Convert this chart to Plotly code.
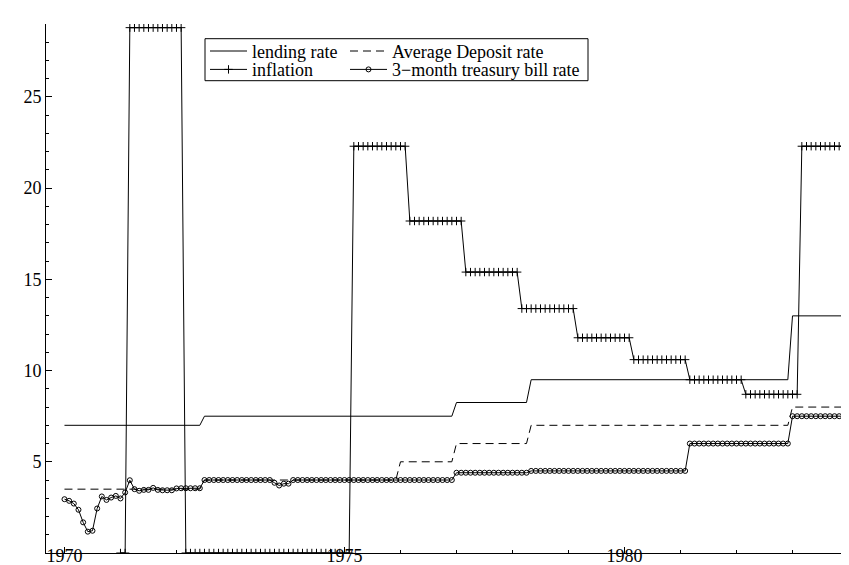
import plotly.graph_objects as go

# ---------------- data (monthly, 1970m1 - 1983m12) ----------------
start_year = 1970
n_months = 168
t = [start_year + i / 12 for i in range(n_months)]

lending_rate = ([7.0] * 30 + [7.5] * 54 + [8.25] * 16 + [9.5] * 56 + [13.0] * 12)

deposit_rate = ([3.5] * 30 + [4.0] * 42 + [5.0] * 12 + [6.0] * 16 + [7.0] * 56 + [8.0] * 12)

inflation = ([None] * 12 + [0.0] * 2 + [28.8] * 12 + [0.0] * 36
             + [22.3] * 12 + [18.2] * 12 + [15.4] * 12 + [13.4] * 12
             + [11.8] * 12 + [10.6] * 12 + [9.5] * 12 + [8.7] * 12 + [22.3] * 10)

tbill_early = [2.95, 2.86, 2.71, 2.37, 1.68, 1.17, 1.22, 2.44, 3.10, 2.91, 3.04, 3.13,
               2.99, 3.32, 3.99, 3.50, 3.41, 3.46, 3.46, 3.57, 3.46, 3.44, 3.44, 3.44,
               3.54, 3.55, 3.55, 3.55, 3.55, 3.55]
tbill_mid = ([4.0] * 15 + [3.85, 3.7, 3.8, 3.8] + [4.0] * 35)
tbill_late = [4.4] * 16 + [4.5] * 34 + [6.0] * 22 + [7.5] * 12
tbill = tbill_early + tbill_mid + tbill_late

x_tick_vals = [1970, 1975, 1980]
x_tick_text = ["1970", "1975", "1980"]
y_tick_vals = [5, 10, 15, 20, 25]
y_tick_text = ["5", "10", "15", "20", "25"]

series_names = ["lending rate", "Average Deposit rate", "inflation", "3\u2212month treasury bill rate"]

# ---------------- layout helpers (pixel geometry only) ----------------
W, H = 849, 565
L, R, T, B = 38, 847, 16, 545


def px2x(px):
    return (px - L) / (R - L)


def px2y(py):
    return (B - py) / (B - T)


FONT = "Liberation Serif"

fig = go.Figure()
fig.add_trace(go.Scatter(x=t, y=lending_rate, name=series_names[0], mode="lines",
                         line=dict(color="black", width=1), legend="legend"))
fig.add_trace(go.Scatter(x=t, y=deposit_rate, name=series_names[1], mode="lines",
                         line=dict(color="black", width=1, dash="8px,5px"), legend="legend2"))
fig.add_trace(go.Scatter(x=t, y=inflation, name=series_names[2], mode="lines+markers",
                         line=dict(color="black", width=1),
                         marker=dict(symbol="cross-thin", size=6, color="black",
                                     line=dict(color="black", width=1)),
                         legend="legend3"))
fig.add_trace(go.Scatter(x=t, y=tbill, name=series_names[3], mode="lines+markers",
                         line=dict(color="black", width=1),
                         marker=dict(symbol="circle-open", size=5, color="black",
                                     line=dict(color="black", width=1)),
                         legend="legend4"))

leg_common = dict(bgcolor="rgba(0,0,0,0)", borderwidth=0, xanchor="left", yanchor="middle",
                  font=dict(family=FONT, size=18, color="black"), itemwidth=37)

fig.update_layout(
    width=W, height=H,
    margin=dict(l=L, r=W - R, t=T, b=H - B),
    paper_bgcolor="white", plot_bgcolor="white",
    font=dict(family=FONT, size=18, color="black"),
    showlegend=True,
    legend=dict(x=px2x(197), y=px2y(43.3), **leg_common),
    legend2=dict(x=px2x(337), y=px2y(43.3), **leg_common),
    legend3=dict(x=px2x(197), y=px2y(61.7), **leg_common),
    legend4=dict(x=px2x(337), y=px2y(61.7), **leg_common),
    xaxis=dict(range=[1969.67, 1984.116], showgrid=False, zeroline=False,
               showline=True, linecolor="black", linewidth=1,
               ticks="inside", ticklen=6, tickcolor="black", tickwidth=1,
               tickvals=x_tick_vals, ticktext=x_tick_text,
               ticklabelposition="outside", ticklabelstandoff=-14,
               tickfont=dict(family=FONT, size=18, color="black"),
               minor=dict(tick0=1970, dtick=1, ticks="inside", ticklen=3,
                          tickcolor="black", tickwidth=1, showgrid=False)),
    yaxis=dict(range=[0, 29], showgrid=False, zeroline=False,
               showline=True, linecolor="black", linewidth=1,
               ticks="inside", ticklen=6, tickcolor="black", tickwidth=1,
               tickvals=y_tick_vals, ticktext=y_tick_text,
               tickfont=dict(family=FONT, size=18, color="black"),
               minor=dict(tick0=0, dtick=1, ticks="inside", ticklen=3,
                          tickcolor="black", tickwidth=1, showgrid=False)),
    shapes=[dict(type="rect", xref="paper", yref="paper",
                 x0=px2x(197), x1=px2x(580), y0=px2y(30.7), y1=px2y(72.7),
                 line=dict(color="black", width=1), fillcolor="rgba(0,0,0,0)", layer="above")],
)

fig.write_html("out.html")
